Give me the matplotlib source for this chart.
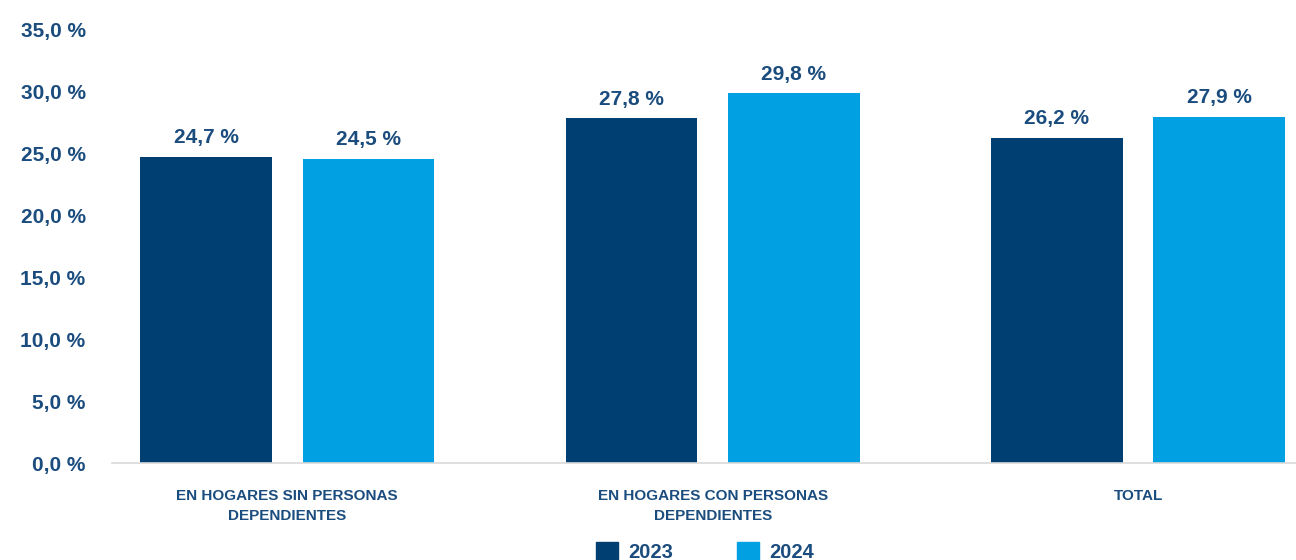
import matplotlib

matplotlib.use("Agg")

import matplotlib.pyplot as plt
import numpy as np
from matplotlib.patches import Patch

# --- Dados ---------------------------------------------------------------
categorias = [
    "EN HOGARES SIN PERSONAS\nDEPENDIENTES",
    "EN HOGARES CON PERSONAS\nDEPENDIENTES",
    "TOTAL",
]
anos = ["2023", "2024"]
valores_2023 = [24.7, 27.8, 26.2]
valores_2024 = [24.5, 29.8, 27.9]
ticks_y = [0, 5, 10, 15, 20, 25, 30, 35]

# --- Estilo --------------------------------------------------------------
COR_2023 = "#003F72"
COR_2024 = "#00A0E3"
COR_TEXTO = "#1B4C7E"
plt.rcParams["font.family"] = ["Liberation Sans", "DejaVu Sans"]


def fmt_pct(v):
    return f"{v:.1f}".replace(".", ",") + " %"


fig = plt.figure(figsize=(12.96, 5.6), dpi=100)
ax = fig.add_axes([0.0864, 0.1732, 0.9136, 0.7750])

x = np.arange(len(categorias))
larg = 0.31
desl = 0.191
b1 = ax.bar(x - desl, valores_2023, larg, color=COR_2023, zorder=2)
b2 = ax.bar(x + desl, valores_2024, larg, color=COR_2024, zorder=2)

for barras in (b1, b2):
    ax.bar_label(
        barras, labels=[fmt_pct(v) for v in barras.datavalues],
        padding=7, fontsize=15, fontweight="bold", color=COR_TEXTO,
    )

ax.set_xlim(-0.412, 2.371)
ax.set_ylim(0, 35)
ax.set_yticks(ticks_y)
ax.set_yticklabels([fmt_pct(v) for v in ticks_y])
ax.set_xticks(x)
ax.set_xticklabels(categorias, linespacing=1.5)

ax.tick_params(axis="y", length=0, pad=19, labelsize=15, labelcolor=COR_TEXTO)
ax.tick_params(axis="x", length=0, pad=19, labelsize=11, labelcolor=COR_TEXTO)
for lab in ax.get_yticklabels() + ax.get_xticklabels():
    lab.set_fontweight("bold")

for lado in ("top", "right", "left"):
    ax.spines[lado].set_visible(False)
ax.spines["bottom"].set_color("#D9D9D9")
ax.spines["bottom"].set_linewidth(1.2)

handles = [Patch(color=COR_2023), Patch(color=COR_2024)]
fig.legend(
    handles, anos, loc="center", bbox_to_anchor=(705 / 1296, 0.014), ncol=2,
    frameon=False, handlelength=1.1, handleheight=1.1, handletextpad=0.5,
    columnspacing=3.2, prop={"size": 14.5, "weight": "bold"}, labelcolor=COR_TEXTO,
)

fig.savefig("out.png", dpi=100, facecolor="white")
